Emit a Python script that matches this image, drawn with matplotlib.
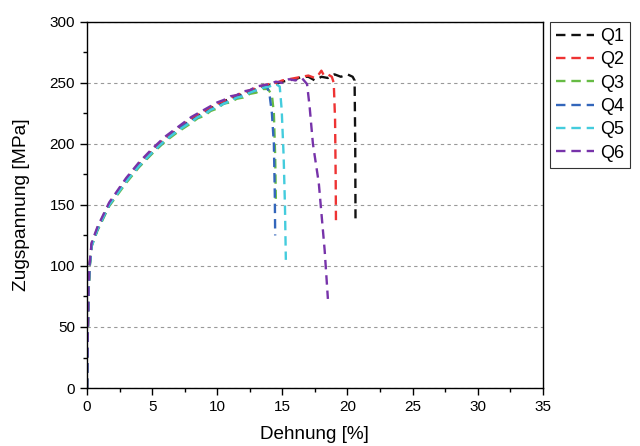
import matplotlib
matplotlib.use("Agg")
import matplotlib.pyplot as plt
from matplotlib.ticker import MultipleLocator

plt.rcParams['font.family'] = ['Liberation Sans', 'DejaVu Sans']

# ─── Daten ────────────────────────────────────────────────────────────────────

labels = ["Q1", "Q2", "Q3", "Q4", "Q5", "Q6"]
colors = ["#111111", "#ee3333", "#66bb44", "#3366bb", "#44ccdd", "#7733aa"]

q1_strain = [0, 0.05, 0.12, 0.2, 0.35, 0.8, 1.7, 3, 4, 5, 6, 7,
             8, 8.5, 9, 9.5, 10, 10.5, 11, 11.5, 12, 12.5, 13, 13.5, 14, 14.5,
             15, 15.5, 16, 16.5, 17, 17.5, 18, 18.5, 19, 19.5, 20, 20.4,
             20.55, 20.6, 20.62]
q1_stress = [0, 40, 80, 100, 117, 130, 150, 170, 183, 194, 204, 212,
             220, 223, 226, 229, 232, 235, 237, 239, 241, 243, 245, 247, 248, 249,
             251, 252, 253, 255, 255, 252, 255, 254, 257, 255, 257, 255,
             252, 200, 139]

q2_strain = [0, 0.05, 0.12, 0.2, 0.35, 0.8, 1.7, 3, 4, 5, 6, 7,
             8, 8.5, 9, 9.5, 10, 10.5, 11, 11.5, 12, 12.5, 13, 13.5, 14, 14.5,
             15, 15.5, 16, 16.5, 17, 17.5, 17.8, 18.0, 18.2, 18.5, 18.8,
             18.95, 19.05, 19.1, 19.12]
q2_stress = [0, 42, 82, 101, 118, 131, 151, 171, 184, 195, 205, 213,
             221, 224, 227, 230, 233, 235, 238, 240, 242, 244, 246, 248, 249, 250,
             252, 253, 254, 255, 256, 254, 257, 260, 256, 257, 255,
             250, 220, 170, 135]

q3_strain = [0, 0.05, 0.12, 0.2, 0.35, 0.8, 1.7, 3, 4, 5, 6, 7,
             8, 8.5, 9, 9.5, 10, 10.5, 11, 11.5, 12, 12.5, 13, 13.5,
             13.9, 14.2, 14.35, 14.45, 14.5]
q3_stress = [0, 38, 78, 98, 116, 129, 149, 168, 181, 192, 202, 210,
             217, 221, 223, 227, 229, 233, 234, 237, 238, 241, 242, 245,
             245, 240, 225, 190, 155]

q4_strain = [0, 0.05, 0.12, 0.2, 0.35, 0.8, 1.7, 3, 4, 5, 6, 7,
             8, 8.5, 9, 9.5, 10, 10.5, 11, 11.5, 12, 12.5, 13, 13.5,
             13.8, 14.0, 14.2, 14.35, 14.42, 14.45]
q4_stress = [0, 41, 81, 100, 117, 130, 150, 170, 182, 193, 203, 212,
             219, 222, 225, 228, 231, 233, 236, 238, 240, 242, 244, 246,
             247, 242, 225, 200, 160, 125]

q5_strain = [0, 0.05, 0.12, 0.2, 0.35, 0.8, 1.7, 3, 4, 5, 6, 7,
             8, 8.5, 9, 9.5, 10, 10.5, 11, 11.5, 12, 12.5, 13, 13.5, 14, 14.5,
             14.8, 14.95, 15.1, 15.2, 15.27]
q5_stress = [0, 39, 79, 99, 116, 130, 150, 169, 182, 193, 203, 211,
             218, 222, 224, 228, 230, 233, 235, 238, 239, 242, 244, 246, 247, 249,
             247, 228, 190, 150, 105]

q6_strain = [0, 0.05, 0.12, 0.2, 0.35, 0.8, 1.7, 3, 4, 5, 6, 7,
             8, 8.5, 9, 9.5, 10, 10.5, 11, 11.5, 12, 12.5, 13, 13.5, 14, 14.5,
             15, 15.5, 16, 16.5, 16.9, 17.1, 17.35, 17.8, 18.25, 18.5]
q6_stress = [0, 42, 83, 102, 119, 132, 152, 172, 185, 196, 206, 214,
             222, 225, 228, 231, 234, 236, 239, 240, 243, 244, 247, 248, 249, 251,
             250, 253, 252, 254, 249, 230, 200, 168, 113, 73]

strains = [q1_strain, q2_strain, q3_strain, q4_strain, q5_strain, q6_strain]
stresses = [q1_stress, q2_stress, q3_stress, q4_stress, q5_stress, q6_stress]

# ─── Diagramm ─────────────────────────────────────────────────────────────────

fig = plt.figure(figsize=(6.4, 4.46), dpi=100)
ax = fig.add_axes([0.136, 0.130, 0.712, 0.821])

for x, y, lab, col in zip(strains, stresses, labels, colors):
    ax.plot(x, y, color=col, lw=1.7, ls=(0, (4, 2.5)), label=lab)

ax.set_xlim(0, 35)
ax.set_ylim(0, 300)
ax.xaxis.set_major_locator(MultipleLocator(5))
ax.xaxis.set_minor_locator(MultipleLocator(2.5))
ax.yaxis.set_major_locator(MultipleLocator(50))
ax.yaxis.set_minor_locator(MultipleLocator(25))
ax.tick_params(which="major", direction="out", length=5, width=1, labelsize=11)
ax.tick_params(which="minor", direction="out", length=3, width=1)
ax.yaxis.grid(True, ls=(0, (3, 3)), color="#999999", lw=0.8)
ax.set_axisbelow(True)
for s in ax.spines.values():
    s.set_linewidth(1.0)

ax.set_xlabel("Dehnung [%]", fontsize=13.6, labelpad=9)
ax.set_ylabel("Zugspannung [MPa]", fontsize=13.8, labelpad=14)

leg = ax.legend(loc="upper left", bbox_to_anchor=(1.016, 1.0), fontsize=13,
                frameon=True, fancybox=False, edgecolor="black",
                handlelength=2.1, handletextpad=0.3, labelspacing=0.35,
                borderpad=0.35, borderaxespad=0)
leg.get_frame().set_linewidth(0.8)

fig.savefig("out.png", dpi=100)
